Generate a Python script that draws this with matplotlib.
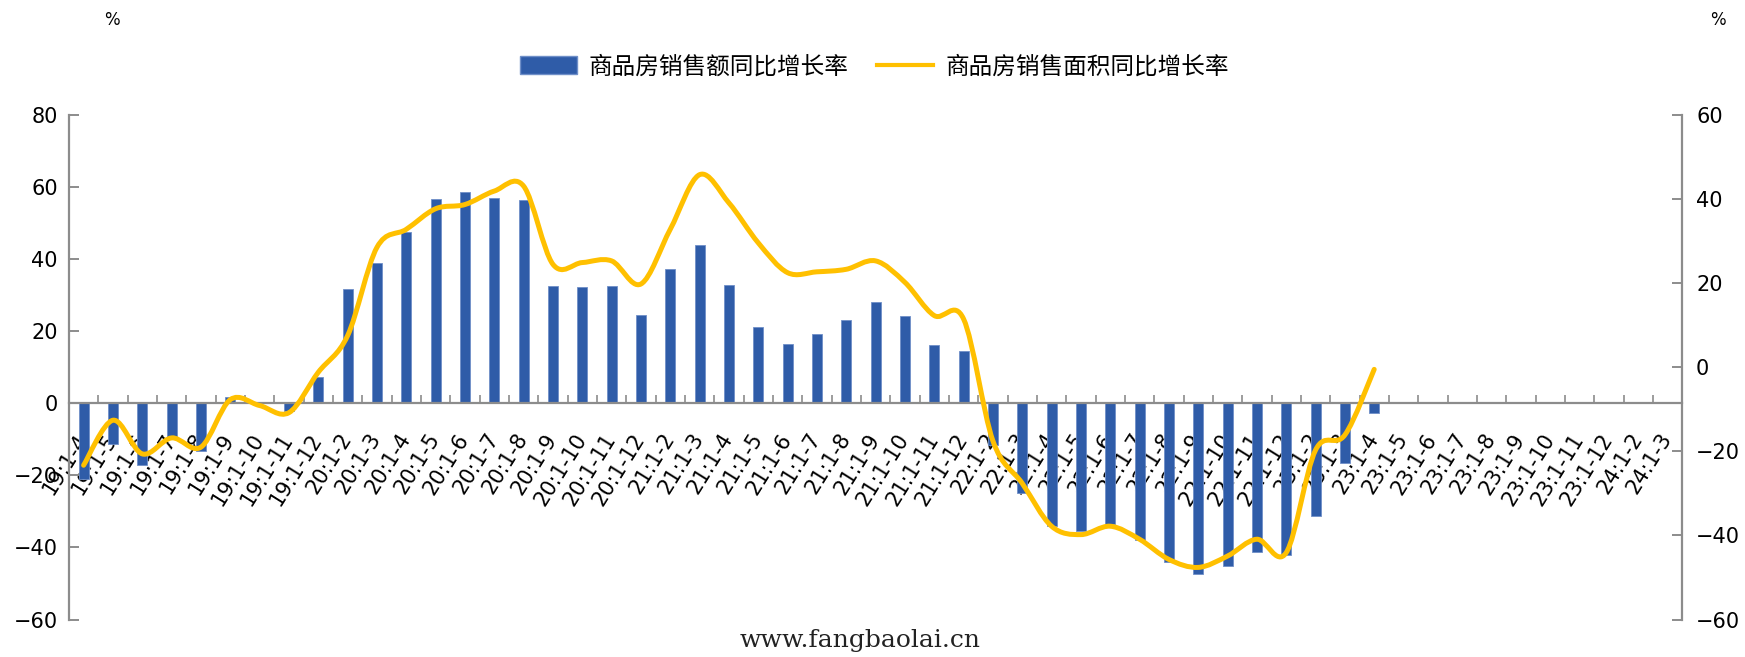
import numpy as np
import matplotlib
matplotlib.use("Agg")
import matplotlib.pyplot as plt
from matplotlib.path import Path
from matplotlib.patches import PathPatch, Patch
from matplotlib.lines import Line2D
from matplotlib.transforms import ScaledTranslation

plt.rcParams['font.family'] = ['DejaVu Sans', 'Noto Sans CJK SC']
plt.rcParams['axes.unicode_minus'] = True

# x categories (year:1-month cumulative)
periods = [
    '19:1-4', '19:1-5', '19:1-6', '19:1-7', '19:1-8', '19:1-9', '19:1-10', '19:1-11', '19:1-12',
    '20:1-2', '20:1-3', '20:1-4', '20:1-5', '20:1-6', '20:1-7', '20:1-8', '20:1-9', '20:1-10', '20:1-11', '20:1-12',
    '21:1-2', '21:1-3', '21:1-4', '21:1-5', '21:1-6', '21:1-7', '21:1-8', '21:1-9', '21:1-10', '21:1-11', '21:1-12',
    '22:1-2', '22:1-3', '22:1-4', '22:1-5', '22:1-6', '22:1-7', '22:1-8', '22:1-9', '22:1-10', '22:1-11', '22:1-12',
    '23:1-2', '23:1-3', '23:1-4', '23:1-5', '23:1-6', '23:1-7', '23:1-8', '23:1-9', '23:1-10', '23:1-11', '23:1-12',
    '24:1-2', '24:1-3',
]

# sales value yoy growth (%), left axis
sales_value = [
    -21.0, -11.4, -17.0, -9.5, -13.3, 1.7, 0.0, -2.0, 7.4,
    31.6, 38.9, 47.5, 56.6, 58.7, 57.1, 56.4, 32.6, 32.4, 32.6, 24.4,
    37.2, 43.8, 32.8, 21.3, 16.5, 19.1, 23.0, 28.1, 24.3, 16.3, 14.6,
    -11.5, -24.8, -34.0, -35.4, -33.6, -38.0, -44.0, -47.5, -45.1, -41.3, -42.2,
    -31.3, -16.7, -2.6,
]

# sales area yoy growth (%), right axis
sales_area = [
    -23.3, -12.6, -20.6, -16.8, -19.0, -7.7, -9.1, -10.8, -1.2,
    7.5, 28.5, 32.8, 37.7, 38.7, 41.9, 43.1, 24.5, 24.9, 25.3, 19.8,
    32.8, 45.8, 39.1, 29.6, 22.5, 22.7, 23.3, 25.3, 20.2, 12.3, 11.5,
    -17.5, -27.6, -37.8, -39.8, -37.8, -40.9, -45.7, -47.6, -44.9, -40.9, -44.1,
    -19.7, -16.1, -0.5,
]

left_ticks = [-60, -40, -20, 0, 20, 40, 60, 80]
right_ticks = [-60, -40, -20, 0, 20, 40, 60]

bar_color = '#2F5CA8'
line_color = '#FFC000'
axis_gray = '#8C8C8C'


def smooth_path(xs, ys):
    """Excel-style smoothed line: cubic Bezier through the points (Catmull-Rom)."""
    pts = np.column_stack([xs, ys])
    verts = [pts[0]]
    codes = [Path.MOVETO]
    n = len(pts)
    for i in range(n - 1):
        p0 = pts[max(i - 1, 0)]
        p1 = pts[i]
        p2 = pts[i + 1]
        p3 = pts[min(i + 2, n - 1)]
        c1 = p1 + (p2 - p0) / 6.0
        c2 = p2 - (p3 - p1) / 6.0
        verts += [c1, c2, p2]
        codes += [Path.CURVE4] * 3
    return Path(verts, codes)


fig = plt.figure(figsize=(17.45, 6.57), dpi=100)
ax = fig.add_axes([0.0395, 0.057, 0.9245, 0.768])
ax2 = ax.twinx()

x = np.arange(len(periods))
xb = np.arange(len(sales_value))
ax.bar(xb, sales_value, width=0.34, color=bar_color, edgecolor='#6F8FC8',
       linewidth=0.6, zorder=2)

ax.set_xlim(-0.5, len(periods) - 0.5)
ax.set_ylim(-60, 80)
ax.set_yticks(left_ticks)
ax2.set_ylim(-60, 60)
ax2.set_yticks(right_ticks)

xl = np.arange(len(sales_area))
ax2.add_patch(PathPatch(smooth_path(xl, sales_area), facecolor='none',
                        edgecolor=line_color, linewidth=3.6, capstyle='round',
                        joinstyle='round', zorder=3))

# spines
for s in ['top', 'right']:
    ax.spines[s].set_visible(False)
for s in ['top', 'left', 'bottom']:
    ax2.spines[s].set_visible(False)
ax.spines['left'].set_color(axis_gray)
ax.spines['left'].set_linewidth(1.6)
ax.spines['bottom'].set_color(axis_gray)
ax.spines['bottom'].set_linewidth(1.6)
ax.spines['bottom'].set_position(('data', 0))
ax2.spines['right'].set_color(axis_gray)
ax2.spines['right'].set_linewidth(1.6)

# x ticks: marks at category boundaries, labels at centres
ax.set_xticks(x)
ax.set_xticklabels(periods, rotation=58, ha='right', va='top', fontsize=15)
ax.tick_params(axis='x', which='major', length=0, pad=19)
ax.set_xticks(np.arange(len(periods) + 1) - 0.5, minor=True)
ax.tick_params(axis='x', which='minor', direction='in', length=6,
               width=1.2, color=axis_gray)
for lab in ax.get_xticklabels():
    lab.set_transform(lab.get_transform() + ScaledTranslation(8 / 100, 0, fig.dpi_scale_trans))

ax.tick_params(axis='y', direction='in', length=7, width=1.4, color=axis_gray,
               labelsize=15, pad=8)
ax2.tick_params(axis='y', direction='in', length=7, width=1.4, color=axis_gray,
                labelsize=15, pad=10)

# unit labels
fig.text(112 / 1745, 1 - 20 / 657, '%', ha='center', va='center', fontsize=12)
fig.text(1718 / 1745, 1 - 20 / 657, '%', ha='center', va='center', fontsize=12)

# legend
handles = [Patch(facecolor=bar_color, edgecolor='#6F8FC8'),
           Line2D([0], [0], color=line_color, linewidth=3.0)]
fig.legend(handles, ['商品房销售额同比增长率', '商品房销售面积同比增长率'],
           loc='center', bbox_to_anchor=(0.501, 0.898), ncol=2, frameon=False,
           prop={'family': ['Noto Sans CJK SC'], 'size': 17},
           handlelength=2.4, handleheight=0.8, columnspacing=1.2, handletextpad=0.5)

# watermark
fig.text(860 / 1745, 1 - 641 / 657, 'www.fangbaolai.cn', ha='center', va='center',
         fontsize=18, family='DejaVu Serif', color='#222222')

fig.savefig('out.png', dpi=100, facecolor='white')
